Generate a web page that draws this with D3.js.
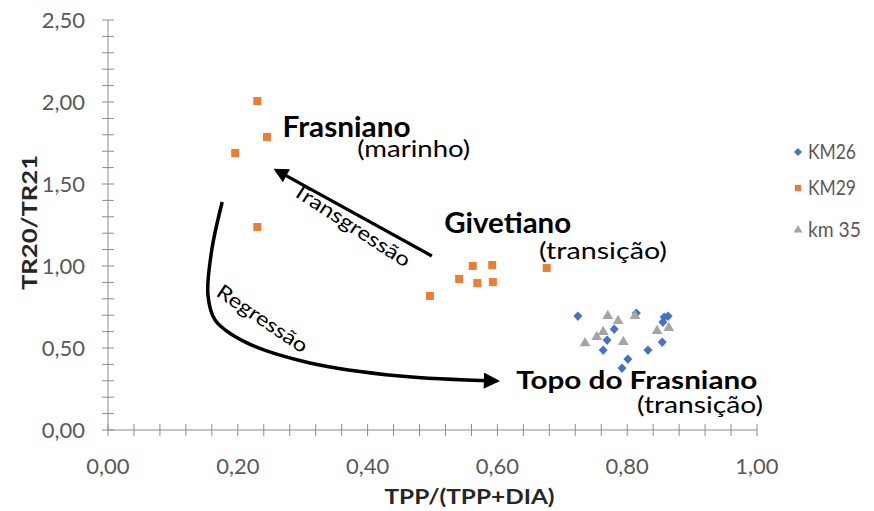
<!DOCTYPE html>
<html>
<head>
    <title>TR20/TR21 vs TPP/(TPP+DIA)</title>
    <script src="https://cdnjs.cloudflare.com/ajax/libs/d3/7.8.5/d3.min.js"></script>
    <style>
        body { margin: 0; background: #fff; font-family: Lato, "Open Sans", sans-serif; }
        svg { display: block; }
    </style>
</head>
<body>
<div id="chart"></div>
<script>
    // series values [TPP/(TPP+DIA), TR20/TR21]
    const km26 = [
        [0.724, 0.695], [0.814, 0.713], [0.780, 0.616], [0.769, 0.549],
        [0.763, 0.488], [0.801, 0.433], [0.792, 0.378], [0.832, 0.488],
        [0.854, 0.537], [0.857, 0.689], [0.863, 0.695], [0.855, 0.659]
    ];
    const km29 = [
        [0.230, 2.006], [0.245, 1.787], [0.196, 1.689], [0.230, 1.238],
        [0.496, 0.817], [0.541, 0.921], [0.562, 1.000], [0.569, 0.896],
        [0.592, 1.006], [0.593, 0.902], [0.676, 0.988]
    ];
    const km35 = [
        [0.770, 0.695], [0.786, 0.665], [0.812, 0.695], [0.735, 0.530],
        [0.753, 0.567], [0.763, 0.598], [0.794, 0.537], [0.846, 0.604],
        [0.864, 0.622]
    ];
    const seriesNames = ['KM26', 'KM29', 'km 35'];
    const xTicks = [0, 0.2, 0.4, 0.6, 0.8, 1.0];
    const yTicks = [0, 0.5, 1.0, 1.5, 2.0, 2.5];

    // annotation paths, in data units
    const transArrow = [[0.499, 1.061], [0.259, 1.585]];
    const regrCurve = [
        [0.176, 1.390], [0.160, 1.100], [0.154, 0.823], [0.165, 0.671],
        [0.211, 0.537], [0.311, 0.409], [0.450, 0.329], [0.599, 0.299]
    ];

    const W = 874, H = 511;
    const margin = {top: 20, right: 117, bottom: 81, left: 108};
    const width = W - margin.left - margin.right;
    const height = H - margin.top - margin.bottom;

    const svg = d3.select('#chart').append('svg')
        .attr('width', W).attr('height', H);
    svg.append('rect').attr('width', W).attr('height', H).attr('fill', '#fff');

    svg.append('defs').append('marker')
        .attr('id', 'head')
        .attr('viewBox', '0 0 10 10')
        .attr('refX', 8).attr('refY', 5)
        .attr('markerWidth', 5).attr('markerHeight', 4.6)
        .attr('markerUnits', 'strokeWidth')
        .attr('orient', 'auto')
        .append('path').attr('d', 'M0,0 L10,5 L0,10 z').attr('fill', '#000');

    const g = svg.append('g').attr('transform', `translate(${margin.left},${margin.top})`);

    const x = d3.scaleLinear().domain([0, 1]).range([0, width]);
    const y = d3.scaleLinear().domain([0, 2.5]).range([height, 0]);

    const fmt = d => d3.format('.2f')(d).replace('.', ',');
    const axisColor = '#8c8c8c';

    // x axis: minor ticks every 0.04 crossing the line
    const xAx = g.append('g').attr('transform', `translate(0,${height})`);
    xAx.append('line').attr('x1', 0).attr('x2', width).attr('stroke', axisColor);
    xAx.selectAll('.xt').data(d3.range(0, 26).map(i => i * 0.04))
        .join('line')
        .attr('x1', d => x(d)).attr('x2', d => x(d))
        .attr('y1', -6).attr('y2', 6)
        .attr('stroke', axisColor);
    xAx.selectAll('.xl').data(xTicks).join('text')
        .attr('x', d => x(d)).attr('y', 44)
        .attr('text-anchor', 'middle')
        .attr('fill', '#595959')
        .style('font-size', '22px')
        .text(fmt);

    // y axis: minor ticks every 0.1
    const yAx = g.append('g');
    yAx.append('line').attr('y1', 0).attr('y2', height).attr('stroke', axisColor);
    yAx.selectAll('.yt').data(d3.range(0, 26).map(i => i * 0.1))
        .join('line')
        .attr('y1', d => y(d)).attr('y2', d => y(d))
        .attr('x1', -6).attr('x2', 6)
        .attr('stroke', axisColor);
    yAx.selectAll('.yl').data(yTicks).join('text')
        .attr('x', -23).attr('y', d => y(d))
        .attr('dy', '0.35em')
        .attr('text-anchor', 'end')
        .attr('fill', '#595959')
        .style('font-size', '22px')
        .text(fmt);

    // axis titles
    svg.append('text')
        .attr('x', margin.left + x(0.5) - 48).attr('y', 504)
        .attr('textLength', 170).attr('lengthAdjust', 'spacingAndGlyphs')
        .style('font-size', '20px').style('font-weight', 'bold')
        .attr('fill', '#262626')
        .text('TPP/(TPP+DIA)');
    svg.append('text')
        .attr('transform', `translate(37,${margin.top + y(1.25) + 65}) rotate(-90)`)
        .attr('textLength', 135).attr('lengthAdjust', 'spacingAndGlyphs')
        .style('font-size', '20px').style('font-weight', 'bold')
        .attr('fill', '#262626')
        .text('TR20/TR21');

    // annotations
    const line = d3.line().x(d => x(d[0])).y(d => y(d[1]));
    g.append('path')
        .attr('d', line(transArrow))
        .attr('fill', 'none').attr('stroke', '#000').attr('stroke-width', 3.2)
        .attr('marker-end', 'url(#head)');
    g.append('path')
        .attr('d', line.curve(d3.curveCatmullRom)(regrCurve))
        .attr('fill', 'none').attr('stroke', '#000').attr('stroke-width', 3.5)
        .attr('marker-end', 'url(#head)');

    const label = (txt, vx, vy, size, len, bold, rot) => {
        const t = g.append('text')
            .attr('transform', `translate(${x(vx)},${y(vy)})` + (rot ? ` rotate(${rot})` : ''))
            .attr('textLength', len).attr('lengthAdjust', 'spacingAndGlyphs')
            .style('font-size', size + 'px')
            .attr('fill', '#000')
            .text(txt);
        if (bold) t.style('font-weight', 'bold');
        return t;
    };
    label('Frasniano', 0.269, 1.785, 28, 128, true);
    label('(marinho)', 0.384, 1.663, 24, 113, false);
    label('Givetiano', 0.518, 1.200, 28, 127, true);
    label('(transição)', 0.664, 1.043, 24, 128, false);
    label('Topo do Frasniano', 0.629, 0.250, 25, 241, true);
    label('(transição)', 0.815, 0.104, 24, 126, false);
    label('Transgressão', 0.282, 1.439, 20, 136, false, 33);
    label('Regressão', 0.165, 0.823, 20, 105, false, 34);

    // points
    const diamond = 'M0,-4.5L4.5,0L0,5L-4.5,0Z';
    const sym = (type, size) => d3.symbol().type(type).size(size)();
    g.selectAll('.p26').data(km26).join('path')
        .attr('transform', d => `translate(${x(d[0])},${y(d[1])})`)
        .attr('d', diamond)
        .attr('fill', '#4472C4');
    g.selectAll('.p35').data(km35).join('path')
        .attr('transform', d => `translate(${x(d[0])},${y(d[1])})`)
        .attr('d', sym(d3.symbolTriangle, 50))
        .attr('fill', '#A5A5A5');
    g.selectAll('.p29').data(km29).join('path')
        .attr('transform', d => `translate(${x(d[0])},${y(d[1])})`)
        .attr('d', sym(d3.symbolSquare, 64))
        .attr('fill', '#ED7D31');

    // legend
    const legendTypes = [
        {d: 'M0,-4L4,0L0,4L-4,0Z', c: '#4472C4', w: 48},
        {d: sym(d3.symbolSquare, 40), c: '#ED7D31', w: 48},
        {d: sym(d3.symbolTriangle, 34), c: '#A5A5A5', w: 53}
    ];
    const lg = svg.append('g').attr('transform', 'translate(798,152)');
    seriesNames.forEach((n, i) => {
        const row = lg.append('g').attr('transform', `translate(0,${[0, 36, 78][i]})`);
        row.append('path').attr('d', legendTypes[i].d).attr('fill', legendTypes[i].c);
        row.append('text').attr('x', 10).attr('dy', '0.35em')
            .attr('textLength', legendTypes[i].w).attr('lengthAdjust', 'spacingAndGlyphs')
            .style('font-size', '21px').attr('fill', '#595959').text(n);
    });
</script>
</body>
</html>
